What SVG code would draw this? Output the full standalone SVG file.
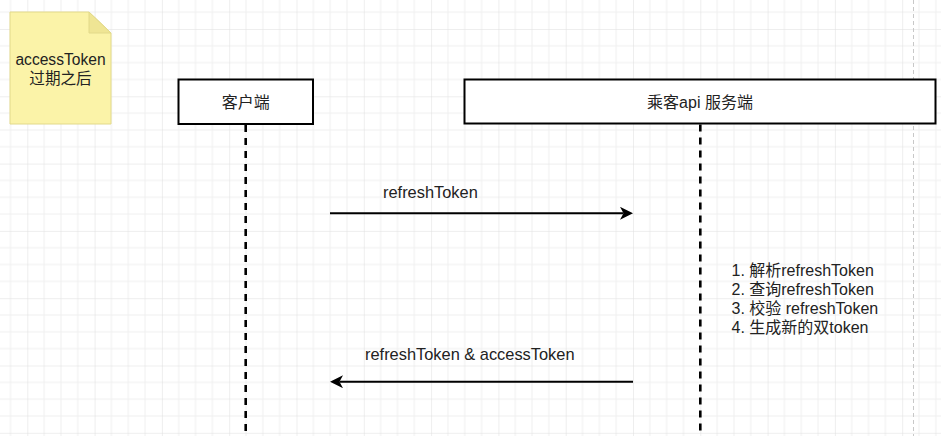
<svg xmlns="http://www.w3.org/2000/svg" width="941" height="436" viewBox="0 0 941 436">
<style>
.txt{font-family:"Liberation Sans","Noto Sans CJK SC",sans-serif;font-size:16px;fill:#222}
.lbl{font-size:16.4px}
.box{fill:#fff;stroke:#000;stroke-width:2}
.life{stroke:#000;stroke-width:2.6;stroke-dasharray:7 6;fill:none}
.msg{stroke:#000;stroke-width:2;fill:none}
</style>
<defs>
<pattern id="grid" patternUnits="userSpaceOnUse" x="27.3" y="29" width="67.3" height="67.3">
<path d="M16.825,0V67.3M33.65,0V67.3M50.475,0V67.3M0,16.825H67.3M0,33.65H67.3M0,50.475H67.3" stroke="#f0f0f0" stroke-width="1" fill="none"/>
<path d="M0,0V67.3M0,0H67.3" stroke="#dedede" stroke-width="1" fill="none"/>
</pattern>
<marker id="arr" markerUnits="userSpaceOnUse" markerWidth="14" markerHeight="14" refX="3.5" refY="6.5" orient="auto">
<path d="M0,0 L13,6.5 L0,13 L3.5,6.5 Z" fill="#000"/>
</marker>
</defs>
<rect width="941" height="436" fill="#fff"/>
<rect width="941" height="436" fill="url(#grid)"/>
<line x1="913.5" y1="0" x2="913.5" y2="436" stroke="#c8c8c8" stroke-width="1" stroke-dasharray="4 3"/>

<g id="note">
<path d="M10,12 H89 L111,33 V124 H10 Z" fill="#fbf3a8" stroke="#e2d98a" stroke-width="1"/>
<path d="M89,12 V33 H111 Z" fill="#efe594" stroke="#e2d98a" stroke-width="1"/>
<text class="txt" x="60.5" y="65" text-anchor="middle" style="font-size:15.6px">accessToken</text>
<text class="txt" x="60.5" y="84" text-anchor="middle" style="font-size:15.6px">过期之后</text>
</g>

<g id="client">
<rect class="box" x="178.5" y="79.5" width="134.5" height="44.5"/>
<text class="txt" x="245.7" y="108" text-anchor="middle">客户端</text>
</g>

<g id="server">
<rect class="box" x="464.5" y="79.5" width="471" height="44"/>
<text class="txt" x="700" y="108" text-anchor="middle">乘客api 服务端</text>
</g>

<g id="connectors">
<line class="life" x1="245.7" y1="125" x2="245.7" y2="436"/>
<line class="life" x1="700.3" y1="124.5" x2="700.3" y2="436"/>
<line class="msg" x1="330" y1="213.3" x2="623.5" y2="213.3" marker-end="url(#arr)"/>
<line class="msg" x1="633" y1="381.7" x2="339.5" y2="381.7" marker-end="url(#arr)"/>
</g>

<g id="labels">
<text class="txt lbl" x="383" y="198">refreshToken</text>
<text class="txt lbl" x="365" y="359.5">refreshToken &amp; accessToken</text>
<text class="txt" x="731.5" y="276">1. 解析refreshToken</text>
<text class="txt" x="731.5" y="295">2. 查询refreshToken</text>
<text class="txt" x="731.5" y="313.5">3. 校验 refreshToken</text>
<text class="txt" x="731.5" y="332.5">4. 生成新的双token</text>
</g>
</svg>
